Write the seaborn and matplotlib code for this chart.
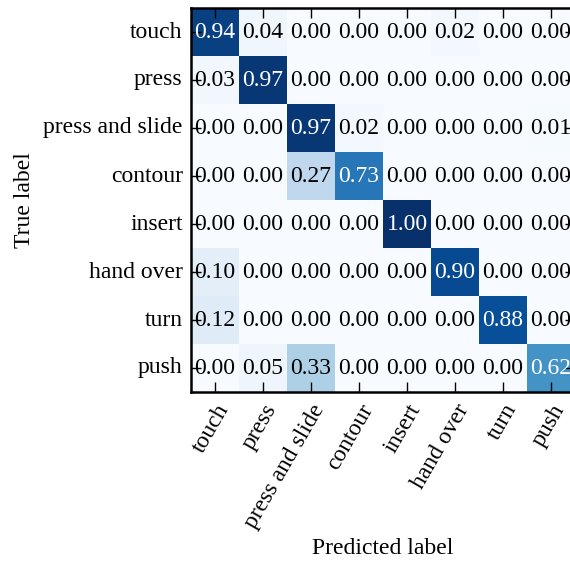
import numpy as np
import pandas as pd
import matplotlib
matplotlib.use('Agg')
import matplotlib.pyplot as plt
import seaborn as sns

classes = ['touch', 'press', 'press and slide', 'contour', 'insert', 'hand over', 'turn', 'push']

# rows = true label, cols = predicted label
row_touch = [0.94, 0.04, 0.00, 0.00, 0.00, 0.02, 0.00, 0.00]
row_press = [0.03, 0.97, 0.00, 0.00, 0.00, 0.00, 0.00, 0.00]
row_press_slide = [0.00, 0.00, 0.97, 0.02, 0.00, 0.00, 0.00, 0.01]
row_contour = [0.00, 0.00, 0.27, 0.73, 0.00, 0.00, 0.00, 0.00]
row_insert = [0.00, 0.00, 0.00, 0.00, 1.00, 0.00, 0.00, 0.00]
row_hand_over = [0.10, 0.00, 0.00, 0.00, 0.00, 0.90, 0.00, 0.00]
row_turn = [0.12, 0.00, 0.00, 0.00, 0.00, 0.00, 0.88, 0.00]
row_push = [0.00, 0.05, 0.33, 0.00, 0.00, 0.00, 0.00, 0.62]

cm = pd.DataFrame([row_touch, row_press, row_press_slide, row_contour,
                   row_insert, row_hand_over, row_turn, row_push],
                  index=classes, columns=classes)

plt.rcParams['font.family'] = 'serif'
plt.rcParams['font.serif'] = ['Liberation Serif', 'DejaVu Serif']
plt.rcParams['font.size'] = 17

fig = plt.figure(figsize=(5.7, 5.65), dpi=100)
# axes runs past the right edge of the figure, as in the original
ax = fig.add_axes([191 / 570, 1 - 392 / 565, 384 / 570, 384 / 565])

sns.heatmap(cm, ax=ax, cmap='Blues', vmin=0, vmax=1, cbar=False,
            annot=True, fmt='.2f', annot_kws={'fontsize': 17})

# white text on dark cells
vals = cm.values.flatten()
for t, v in zip(ax.texts, vals):
    t.set_color('white' if v > 0.5 else 'black')

for s in ax.spines.values():
    s.set_visible(True)
    s.set_linewidth(1.8)
    s.set_color('black')

ax.tick_params(direction='in', length=7, width=1, top=True, bottom=True,
               left=True, right=True, labeltop=False, labelsize=17, pad=6)
ax.set_yticklabels(classes, rotation=0)
ax.set_xticklabels(classes, rotation=60, ha='right', rotation_mode='anchor')

ax.set_ylabel('True label', fontsize=17, labelpad=6)
ax.set_xlabel('Predicted label', fontsize=17, labelpad=5)

fig.savefig('out.png', dpi=100)
